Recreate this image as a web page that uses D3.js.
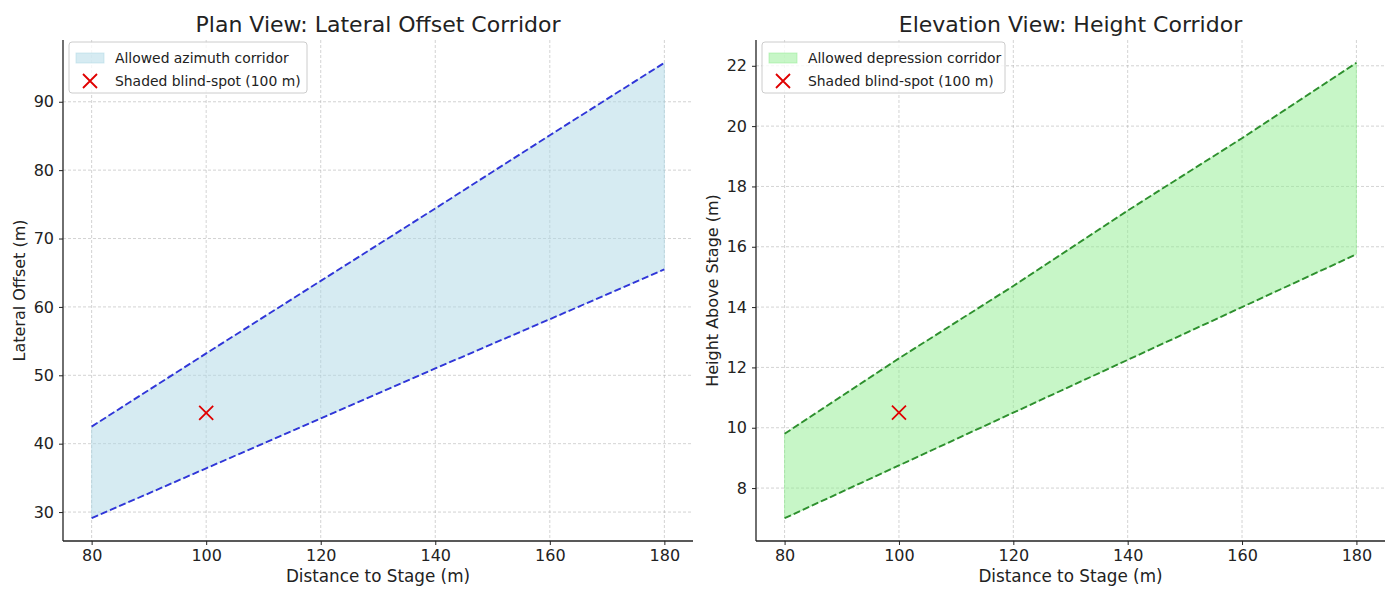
<!DOCTYPE html>
<html>
<head>
<meta charset="utf-8">
<script src="https://cdn.jsdelivr.net/npm/d3@7"></script>
<style>
body { margin: 0; background: #fff; }
svg text { font-family: "DejaVu Sans", sans-serif; fill: #222; }
</style>
</head>
<body>
<div id="chart"></div>
<script>
// distances along the stage axis (m)
var distance = [80, 100, 120, 140, 160, 180];

// plan view: lateral offset corridor (m)
var lateralUpper = [42.5, 53.2, 63.8, 74.4, 85.1, 95.7];
var lateralLower = [29.1, 36.4, 43.7, 51.0, 58.2, 65.5];

// elevation view: height corridor (m)
var heightUpper = [9.8, 12.3, 14.7, 17.2, 19.6, 22.1];
var heightLower = [7.0, 8.75, 10.5, 12.25, 14.0, 15.75];

// blind spot marker
var blindX = [100];
var blindLateral = [44.5];
var blindHeight = [10.5];

var xTicks = [80, 100, 120, 140, 160, 180];
var lateralTicks = [30, 40, 50, 60, 70, 80, 90];
var heightTicks = [8, 10, 12, 14, 16, 18, 20, 22];

var svg = d3.select("#chart")
    .append("svg")
    .attr("width", 1400)
    .attr("height", 600);

function panel(opts) {
    var left = opts.left, right = opts.right, top = 40, bottom = 541;
    var width = right - left, height = bottom - top;

    var g = svg.append("g")
        .attr("transform", "translate(" + left + "," + top + ")");

    // matplotlib style 5% margins
    var xMin = d3.min(distance), xMax = d3.max(distance);
    var xPad = (xMax - xMin) * 0.05;
    var allY = opts.lower.concat(opts.upper, opts.markY);
    var yMin = d3.min(allY), yMax = d3.max(allY);
    var yPad = (yMax - yMin) * 0.05;

    var x = d3.scaleLinear().domain([xMin - xPad, xMax + xPad]).range([0, width]);
    var y = d3.scaleLinear().domain([yMin - yPad, yMax + yPad]).range([height, 0]);

    // grid
    g.append("g").selectAll("line")
        .data(xTicks).enter().append("line")
        .attr("x1", function (d) { return x(d); })
        .attr("x2", function (d) { return x(d); })
        .attr("y1", 0).attr("y2", height)
        .attr("stroke", "#b0b0b0").attr("stroke-opacity", 0.7)
        .attr("stroke-width", 0.8).attr("stroke-dasharray", "3,2");
    g.append("g").selectAll("line")
        .data(opts.yTicks).enter().append("line")
        .attr("y1", function (d) { return y(d); })
        .attr("y2", function (d) { return y(d); })
        .attr("x1", 0).attr("x2", width)
        .attr("stroke", "#b0b0b0").attr("stroke-opacity", 0.7)
        .attr("stroke-width", 0.8).attr("stroke-dasharray", "3,2");

    var rows = distance.map(function (d, i) {
        return {x: d, lo: opts.lower[i], hi: opts.upper[i]};
    });

    var area = d3.area()
        .x(function (d) { return x(d.x); })
        .y0(function (d) { return y(d.lo); })
        .y1(function (d) { return y(d.hi); });

    g.append("path")
        .datum(rows)
        .attr("d", area)
        .attr("fill", opts.fill)
        .attr("fill-opacity", 0.5)
        .attr("stroke", opts.fill)
        .attr("stroke-opacity", 0.5)
        .attr("stroke-width", 1);

    ["hi", "lo"].forEach(function (k) {
        var line = d3.line()
            .x(function (d) { return x(d.x); })
            .y(function (d) { return y(d[k]); });
        g.append("path")
            .datum(rows)
            .attr("d", line)
            .attr("fill", "none")
            .attr("stroke", opts.lineColor)
            .attr("stroke-width", 1.9)
            .attr("stroke-dasharray", "7,3");
    });

    // blind spot marker
    var s = 7;
    g.selectAll(".mark")
        .data(opts.markX.map(function (d, i) { return [d, opts.markY[i]]; }))
        .enter().append("path")
        .attr("class", "mark")
        .attr("d", function (d) {
            var cx = x(d[0]), cy = y(d[1]);
            return "M" + (cx - s) + "," + (cy - s) + "L" + (cx + s) + "," + (cy + s) +
                "M" + (cx - s) + "," + (cy + s) + "L" + (cx + s) + "," + (cy - s);
        })
        .attr("stroke", "#e00000")
        .attr("stroke-width", 1.8)
        .attr("fill", "none");

    // axes
    var xAxis = g.append("g")
        .attr("transform", "translate(0," + height + ")")
        .call(d3.axisBottom(x).tickValues(xTicks).tickSize(4).tickPadding(5));
    var yAxis = g.append("g")
        .call(d3.axisLeft(y).tickValues(opts.yTicks).tickSize(4).tickPadding(5));
    [xAxis, yAxis].forEach(function (a) {
        a.select(".domain").attr("stroke", "#222").attr("stroke-width", 1.3);
        a.selectAll(".tick line").attr("stroke", "#222");
        a.selectAll("text").style("font-size", "16px").attr("fill", "#222")
            .style("font-family", "'DejaVu Sans', sans-serif");
    });
    xAxis.select(".domain").attr("d", "M0,0H" + width);
    yAxis.select(".domain").attr("d", "M0,0V" + height);

    // titles
    svg.append("text")
        .attr("x", left + width / 2)
        .attr("y", 32)
        .attr("text-anchor", "middle")
        .style("font-size", "22px")
        .text(opts.title);
    svg.append("text")
        .attr("x", left + width / 2)
        .attr("y", 582)
        .attr("text-anchor", "middle")
        .style("font-size", "16.8px")
        .text("Distance to Stage (m)");
    svg.append("text")
        .attr("transform", "translate(" + (left - 38) + "," + (top + height / 2) + ") rotate(-90)")
        .attr("text-anchor", "middle")
        .style("font-size", "16px")
        .text(opts.yLabel);

    // legend
    var lg = g.append("g").attr("transform", "translate(6,2)");
    lg.append("rect")
        .attr("width", opts.legendW).attr("height", 51)
        .attr("rx", 3)
        .attr("fill", "#fff").attr("fill-opacity", 0.8)
        .attr("stroke", "#ccc");
    lg.append("rect")
        .attr("x", 7).attr("y", 11).attr("width", 28).attr("height", 10)
        .attr("fill", opts.fill).attr("fill-opacity", 0.5)
        .attr("stroke", opts.fill).attr("stroke-opacity", 0.5);
    lg.append("path")
        .attr("d", "M" + (21 - s) + "," + (39 - s) + "L" + (21 + s) + "," + (39 + s) +
            "M" + (21 - s) + "," + (39 + s) + "L" + (21 + s) + "," + (39 - s))
        .attr("stroke", "#e00000").attr("stroke-width", 1.8);
    lg.append("text").attr("x", 46).attr("y", 21).style("font-size", "13.9px").text(opts.legendLabel);
    lg.append("text").attr("x", 46).attr("y", 44).style("font-size", "13.9px").text("Shaded blind-spot (100 m)");
}

panel({
    left: 63, right: 693,
    upper: lateralUpper, lower: lateralLower,
    markX: blindX, markY: blindLateral,
    yTicks: lateralTicks,
    fill: "#add8e6", lineColor: "#3036d8",
    title: "Plan View: Lateral Offset Corridor",
    yLabel: "Lateral Offset (m)",
    legendLabel: "Allowed azimuth corridor",
    legendW: 238
});

panel({
    left: 756, right: 1385,
    upper: heightUpper, lower: heightLower,
    markX: blindX, markY: blindHeight,
    yTicks: heightTicks,
    fill: "#90ee90", lineColor: "#2e8f2e",
    title: "Elevation View: Height Corridor",
    yLabel: "Height Above Stage (m)",
    legendLabel: "Allowed depression corridor",
    legendW: 243
});
</script>
</body>
</html>
